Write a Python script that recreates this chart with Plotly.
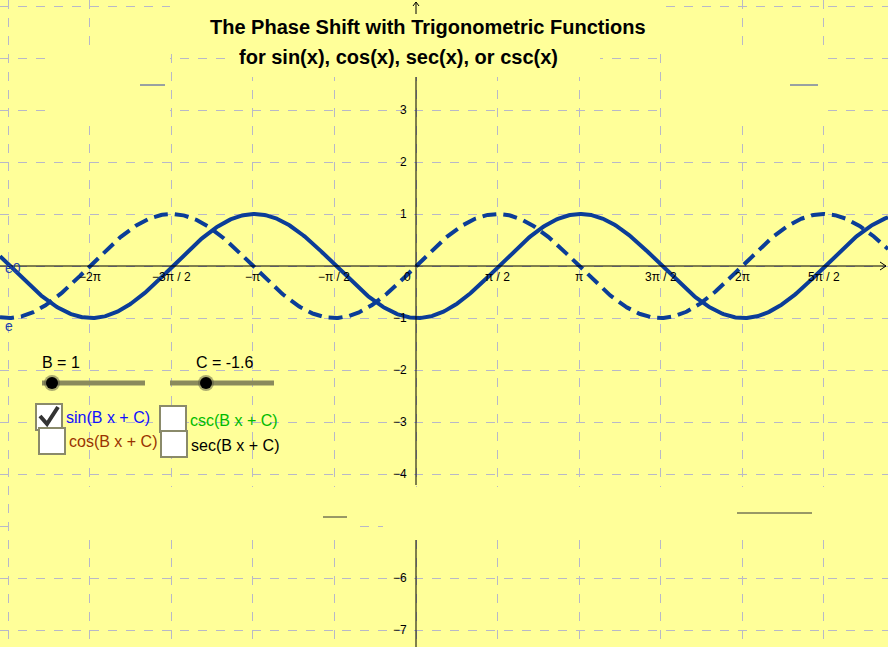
import numpy as np
import plotly.graph_objects as go

W, H = 888, 647
B = 1
C = -1.6
x_ticks = [k * np.pi / 2 for k in range(-4, 6)]
x_labels = ["−2π", "−3π / 2", "−π", "−π / 2", "0", "π / 2", "π", "3π / 2", "2π", "5π / 2"]
y_ticks = [3, 2, 1, -1, -2, -3, -4, -6, -7]
y_labels = ["3", "2", "1", "−1", "−2", "−3", "−4", "−6", "−7"]

# pixel mapping of the GeoGebra view
X0, Y0, SX, SY = 416, 266, 51.9, 52.0
xr = [(0 - X0) / SX, (W - X0) / SX]
yr = [(Y0 - H) / SY, (Y0 - 0) / SY]

xs = np.linspace(xr[0], xr[1], 800)
BLUE = "#0b3d98"
fig = go.Figure()
fig.add_trace(go.Scatter(x=xs, y=np.sin(xs), mode="lines",
                         line=dict(color=BLUE, width=4, dash="14px,7px"), hoverinfo="skip"))
fig.add_trace(go.Scatter(x=xs, y=np.sin(B * xs + C), mode="lines",
                         line=dict(color=BLUE, width=4), hoverinfo="skip"))

def px(x): return x / W
def py(y): return 1 - y / H

shapes = []
YEL = "#ffff99"
def box(x0, y0, x1, y1):
    shapes.append(dict(type="rect", xref="paper", yref="paper", x0=px(x0), x1=px(x1),
                       y0=py(y1), y1=py(y0), fillcolor=YEL, line=dict(width=0), layer="above"))
box(170, 0, 662, 48); box(230, 40, 600, 77)
box(48, 45, 170, 120); box(662, 45, 827, 120)
box(15, 487, 360, 540); box(383, 487, 888, 540)

def seg(x0, y0, x1, y1, color="black", w=1):
    shapes.append(dict(type="line", xref="paper", yref="paper", x0=px(x0), x1=px(x1),
                       y0=py(y0), y1=py(y1), line=dict(color=color, width=w), layer="above"))
# axes
seg(0, Y0, 886, Y0)
seg(880, Y0 - 4, 886, Y0); seg(880, Y0 + 4, 886, Y0)
seg(X0, 2, X0, 14); seg(X0 - 3, 6, X0, 2); seg(X0 + 3, 6, X0, 2)
seg(X0, 77, X0, 485); seg(X0, 540, X0, H)
# small stray lines
seg(140, 85, 165, 85, "#3344aa"); seg(790, 85, 818, 85, "#3344aa")
seg(323, 517, 347, 517, "#333"); seg(737, 513, 812, 513, "#333")
# sliders
for a, b, k in [(42, 145, 52), (170, 274, 206)]:
    seg(a, 383, b, 383, "#8a8a5c", 5)
    shapes.append(dict(type="circle", xref="paper", yref="paper", x0=px(k - 8), x1=px(k + 8),
                       y0=py(383 + 8), y1=py(383 - 8), fillcolor="rgba(90,90,70,0.5)", line=dict(width=0), layer="above"))
    shapes.append(dict(type="circle", xref="paper", yref="paper", x0=px(k - 6), x1=px(k + 6),
                       y0=py(383 + 6), y1=py(383 - 6), fillcolor="black", line=dict(width=0), layer="above"))
# checkboxes
for x0, y0 in [(36, 404), (39, 428), (160, 406), (161, 431)]:
    shapes.append(dict(type="rect", xref="paper", yref="paper", x0=px(x0), x1=px(x0 + 26),
                       y0=py(y0 + 26), y1=py(y0), fillcolor="white",
                       line=dict(color="#8a8a6a", width=2), layer="above"))
shapes.append(dict(type="path", xref="paper", yref="paper", layer="above",
                   path=f"M {px(40)},{py(416)} L {px(47)},{py(424)} L {px(58)},{py(407)}",
                   line=dict(color="#333", width=4)))

ann = []
def txt(x, y, t, color="black", size=13, xanchor="left", bold=False):
    ann.append(dict(xref="paper", yref="paper", x=px(x), y=py(y), text=f"<b>{t}</b>" if bold else t,
                    showarrow=False, xanchor=xanchor, yanchor="middle",
                    font=dict(family="Liberation Sans, Arial", size=size, color=color)))
txt(428, 27, "The Phase Shift with Trigonometric Functions", size=20, xanchor="center", bold=True)
txt(398, 57, "for sin(x), cos(x), sec(x), or csc(x)", size=20, xanchor="center", bold=True)
for v, l in zip(x_ticks, x_labels):
    xp = X0 + v * SX
    if l == "0":
        txt(xp - 3, 277, l, size=12, xanchor="right")
    else:
        txt(xp, 277, l, size=12, xanchor="center")
for v, l in zip(y_ticks, y_labels):
    txt(409, Y0 - v * SY, l, size=12, xanchor="right")
txt(3, 268, "e0", color="#2244aa", size=14)
txt(3, 326, "e", color="#2244aa", size=14)
txt(40, 362, "B = 1", size=16)
txt(194, 362, "C = -1.6", size=16)
txt(64, 418, "sin(B x + C)", color="#1010ff", size=16)
txt(67, 442, "cos(B x + C)", color="#993300", size=16)
txt(188, 420, "csc(B x + C)", color="#00bb00", size=16)
txt(189, 445, "sec(B x + C)", color="black", size=16)

fig.update_layout(width=W, height=H, margin=dict(l=0, r=0, t=0, b=0),
                  paper_bgcolor=YEL, plot_bgcolor=YEL, showlegend=False,
                  shapes=shapes, annotations=ann,
                  xaxis=dict(range=xr, tick0=0, dtick=np.pi / 2, showgrid=True, gridcolor="#b8b8c8",
                             griddash="dash", gridwidth=1, zeroline=False, showticklabels=False, fixedrange=True),
                  yaxis=dict(range=yr, tick0=0, dtick=1, showgrid=True, gridcolor="#b8b8c8",
                             griddash="dash", gridwidth=1, zeroline=False, showticklabels=False, fixedrange=True))
fig.write_html("out.html", config={"displayModeBar": False},
               post_script="document.body.style.margin='0';document.body.style.overflow='hidden';")
